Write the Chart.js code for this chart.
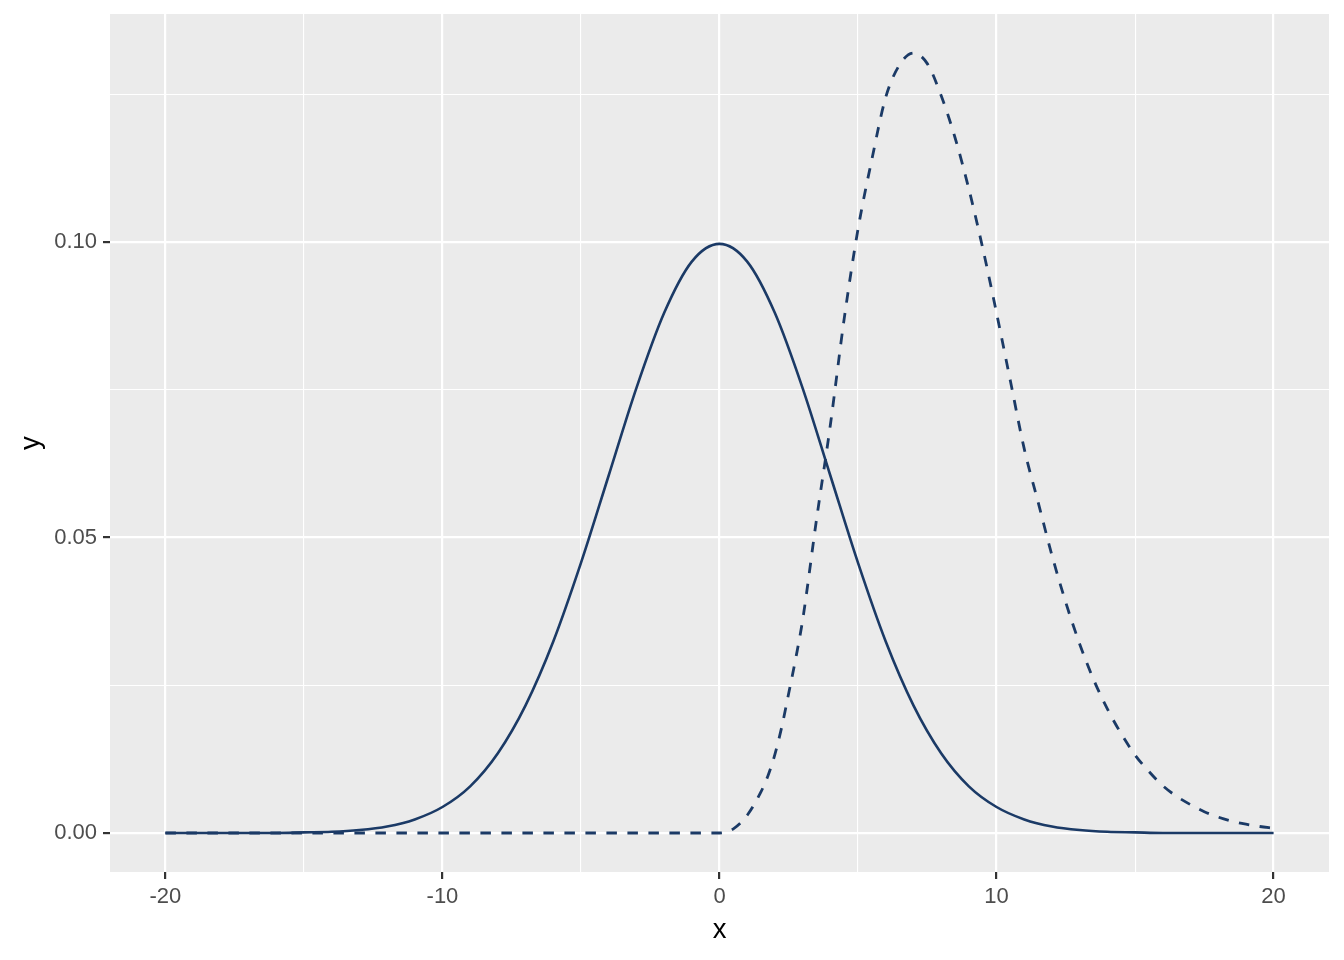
<!DOCTYPE html>
<html>
<head>
<meta charset="utf-8">
<script src="https://cdn.jsdelivr.net/npm/chart.js@4/dist/chart.umd.min.js"></script>
<style>
  html, body { margin: 0; padding: 0; background: #ffffff; }
  #wrap { width: 1344px; height: 960px; }
</style>
</head>
<body>
<div id="wrap"><canvas id="chart" width="1344" height="960"></canvas></div>
<script>
// Solid curve at whole x steps
const solidX = [-20, -19, -18, -17, -16, -15, -14, -13, -12, -11, -10, -9, -8, -7, -6, -5, -4, -3, -2, -1,
  0, 1, 2, 3, 4, 5, 6, 7, 8, 9, 10, 11, 12, 13, 14, 15, 16, 17, 18, 19, 20];
const solidY = [0, 0, 0, 0, 0, 0.0001, 0.0002, 0.0005, 0.0011, 0.0023, 0.0044, 0.0079, 0.0135, 0.0216, 0.0324,
  0.0457, 0.0605, 0.0753, 0.0880, 0.0967, 0.0997, 0.0967, 0.0880, 0.0753, 0.0605, 0.0457, 0.0324, 0.0216,
  0.0135, 0.0079, 0.0044, 0.0023, 0.0011, 0.0005, 0.0002, 0.0001, 0, 0, 0, 0, 0];

// Dashed curve
const dashX = [-20, -15, -10, -5, 0, 0.5, 1, 1.5, 1.75, 2, 2.25, 2.5, 2.75, 3, 3.5, 4, 4.5, 5, 5.5, 6, 6.5,
  7, 7.5, 8, 8.5, 9, 9.5, 10, 10.5, 11, 11.5, 12, 12.5, 13, 13.5, 14, 14.5, 15, 15.5, 16, 16.5, 17, 17.5,
  18, 18.5, 19, 19.5, 20];
const dashY = [0, 0, 0, 0, 0, 0.0007, 0.0030, 0.0070, 0.0097, 0.0133, 0.0180, 0.0237, 0.0295, 0.0360,
  0.0530, 0.0690, 0.0870, 0.1022, 0.1140, 0.1245, 0.1300, 0.1320, 0.1302, 0.1248, 0.1177, 0.1090, 0.0990,
  0.0880, 0.0765, 0.0650, 0.0560, 0.0470, 0.0390, 0.0320, 0.0260, 0.0210, 0.0168, 0.0132, 0.0104, 0.0080,
  0.0062, 0.0048, 0.0036, 0.0027, 0.0020, 0.0015, 0.0011, 0.0008];

const xMajor = [-20, -10, 0, 10, 20];
const xMinor = [-15, -5, 5, 15];
const yMajor = [0, 0.05, 0.10];
const yMinor = [0.025, 0.075, 0.125];
const yLabels = ['0.00', '0.05', '0.10'];

const LINE = '#1b3a66';
const PANEL = '#ebebeb';

const toPoints = (xs, ys) => xs.map((x, i) => ({ x, y: ys[i] }));

const panelBg = {
  id: 'panelBg',
  beforeDraw(chart) {
    const { ctx, chartArea: a } = chart;
    ctx.save();
    ctx.fillStyle = PANEL;
    ctx.fillRect(a.left, a.top, a.right - a.left, a.bottom - a.top);
    ctx.restore();
  },
};

function isMajor(list, v) {
  return list.some((m) => Math.abs(m - v) < 1e-9);
}

function gridFor(major) {
  return {
    color: '#ffffff',
    lineWidth: (c) => (c.tick && isMajor(major, c.tick.value) ? 2.2 : 1.1),
    tickColor: (c) => (c.tick && isMajor(major, c.tick.value) ? '#333333' : 'rgba(0,0,0,0)'),
    tickWidth: 2.2,
    tickLength: 7,
    drawOnChartArea: true,
  };
}

new Chart(document.getElementById('chart'), {
  type: 'line',
  data: {
    datasets: [
      {
        label: 'solid',
        data: toPoints(solidX, solidY),
        borderColor: LINE,
        borderWidth: 2.6,
        pointRadius: 0,
        fill: false,
        cubicInterpolationMode: 'monotone',
      },
      {
        label: 'dashed',
        data: toPoints(dashX, dashY),
        borderColor: LINE,
        borderWidth: 2.8,
        borderDash: [10.5, 10.5],
        pointRadius: 0,
        fill: false,
        cubicInterpolationMode: 'monotone',
      },
    ],
  },
  options: {
    responsive: false,
    animation: false,
    devicePixelRatio: 1,
    layout: { padding: { left: 0, top: 14, right: 15, bottom: 0 } },
    plugins: { legend: { display: false }, tooltip: { enabled: false } },
    scales: {
      x: {
        type: 'linear',
        min: -22,
        max: 22,
        afterFit: (s) => { s.height = 88; s.paddingLeft = 0; s.paddingRight = 0; },
        afterBuildTicks: (s) => {
          s.ticks = [...xMajor, ...xMinor].sort((a, b) => a - b).map((v) => ({ value: v }));
        },
        grid: gridFor(xMajor),
        border: { display: false },
        ticks: {
          color: '#4d4d4d',
          font: { family: 'Liberation Sans', size: 22 },
          padding: 5,
          maxRotation: 0,
          autoSkip: false,
          callback: (v) => (isMajor(xMajor, v) ? String(v) : ''),
        },
        title: {
          display: true,
          text: 'x',
          color: '#000000',
          font: { family: 'Liberation Sans', size: 27.5 },
          padding: { top: 0, bottom: 13.5 },
        },
      },
      y: {
        type: 'linear',
        min: -0.0066,
        max: 0.1386,
        afterFit: (s) => { s.width = 110; s.paddingTop = 0; s.paddingBottom = 0; },
        afterBuildTicks: (s) => {
          s.ticks = [...yMajor, ...yMinor].sort((a, b) => a - b).map((v) => ({ value: v }));
        },
        grid: gridFor(yMajor),
        border: { display: false },
        ticks: {
          color: '#4d4d4d',
          font: { family: 'Liberation Sans', size: 22 },
          padding: 6,
          autoSkip: false,
          callback: (v) => {
            const i = yMajor.findIndex((m) => Math.abs(m - v) < 1e-9);
            return i >= 0 ? yLabels[i] : '';
          },
        },
        title: {
          display: true,
          text: 'y',
          color: '#000000',
          font: { family: 'Liberation Sans', size: 27.5 },
          padding: { top: 15, bottom: 0 },
        },
      },
    },
  },
  plugins: [panelBg],
});
</script>
</body>
</html>
